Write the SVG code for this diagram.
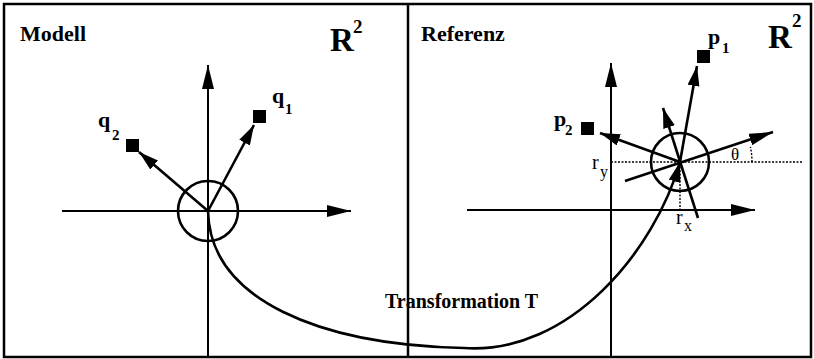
<svg xmlns="http://www.w3.org/2000/svg" width="814" height="359" viewBox="0 0 814 359">
<style>
.t{font-family:"Liberation Serif","Times New Roman",serif;font-weight:bold;fill:#000}
.r{font-family:"Liberation Serif","Times New Roman",serif;fill:#000}
.ln{stroke:#000;stroke-width:2.6;fill:none}
.ax{stroke:#000;stroke-width:2;fill:none}
.dot{stroke:#000;stroke-width:1.4;stroke-dasharray:2,1.5;fill:none}
.sq{fill:#000}
</style>
<defs>
<marker id="ah" markerUnits="userSpaceOnUse" viewBox="0 0 24 12" refX="24" refY="6" markerWidth="24" markerHeight="12" orient="auto">
<path d="M0,0 L24,6 L0,12 z" fill="#000"/>
</marker>
<marker id="ahs" markerUnits="userSpaceOnUse" viewBox="0 0 20 12" refX="20" refY="6" markerWidth="20" markerHeight="12" orient="auto">
<path d="M0,0 L20,6 L0,12 z" fill="#000"/>
</marker>
</defs>
<rect width="814" height="359" fill="#fff"/>
<g id="frame">
<rect x="4" y="4" width="807" height="353" fill="none" stroke="#000" stroke-width="2.5"/>
<line x1="408" y1="4" x2="408" y2="357" stroke="#000" stroke-width="2.5"/>
</g>
<g id="modell">
<text class="t" x="20" y="41" font-size="22">Modell</text>
<text class="t" x="330" y="51" font-size="33">R</text>
<text class="t" x="353" y="33" font-size="19">2</text>
</g>
<g id="referenz">
<text class="t" x="421" y="41" font-size="22">Referenz</text>
<text class="t" x="768" y="48" font-size="33">R</text>
<text class="t" x="792" y="27" font-size="19">2</text>
</g>
<g id="q1"><rect class="sq" x="253" y="110" width="13" height="13"/>
<text class="t" x="272" y="103" font-size="22">q</text><text class="t" x="285" y="114" font-size="15">1</text></g>
<g id="q2"><rect class="sq" x="126" y="139" width="13" height="13"/>
<text class="t" x="98" y="127" font-size="22">q</text><text class="t" x="112" y="140" font-size="15">2</text></g>
<g id="p1"><rect class="sq" x="697" y="50" width="13" height="13"/>
<text class="t" x="708" y="44" font-size="22">p</text><text class="t" x="722" y="53" font-size="15">1</text></g>
<g id="p2"><rect class="sq" x="581" y="122" width="13" height="13"/>
<text class="t" x="554" y="126" font-size="22">p</text><text class="t" x="565" y="135" font-size="15">2</text></g>
<g id="origin-model"><circle cx="208" cy="211" r="30" class="ln"/></g>
<g id="origin-ref"><circle cx="680" cy="162" r="29" class="ln"/></g>
<g id="annotations">
<line class="dot" x1="611" y1="162" x2="802" y2="162"/>
<line class="dot" x1="680" y1="163" x2="680" y2="210"/>
<path class="dot" d="M752,162 A72,72 0 0 0 750.4,147"/>
<text class="r" x="731" y="160" font-size="17">θ</text>
<text class="r" x="592" y="169" font-size="20">r</text><text class="r" x="600" y="177" font-size="16">y</text>
<text class="r" x="676" y="224" font-size="20">r</text><text class="r" x="684" y="231" font-size="16">x</text>
<text class="t" x="385" y="308" font-size="20">Transformation T</text>
</g>
<g id="connectors">
<line class="ax" x1="208" y1="357" x2="208" y2="65" marker-end="url(#ah)"/>
<line class="ax" x1="62" y1="211" x2="351" y2="211" marker-end="url(#ah)"/>
<line class="ln" x1="208" y1="211" x2="254" y2="125" marker-end="url(#ahs)"/>
<line class="ln" x1="208" y1="211" x2="139" y2="152" marker-end="url(#ahs)"/>
<line class="ax" x1="611" y1="357" x2="611" y2="63" marker-end="url(#ah)"/>
<line class="ax" x1="467" y1="210" x2="755" y2="210" marker-end="url(#ah)"/>
<line class="ln" x1="625" y1="181" x2="773" y2="132" marker-end="url(#ah)"/>
<line class="ln" x1="698" y1="218" x2="663" y2="108" marker-end="url(#ahs)"/>
<line class="ln" x1="680" y1="162" x2="697" y2="66" marker-end="url(#ahs)"/>
<line class="ln" x1="680" y1="162" x2="600" y2="133" marker-end="url(#ahs)"/>
<path class="ln" d="M208,211 C210,300 320,345 464,348 C570,355 655,250 680,162" marker-end="url(#ahs)"/>
</g>
</svg>
